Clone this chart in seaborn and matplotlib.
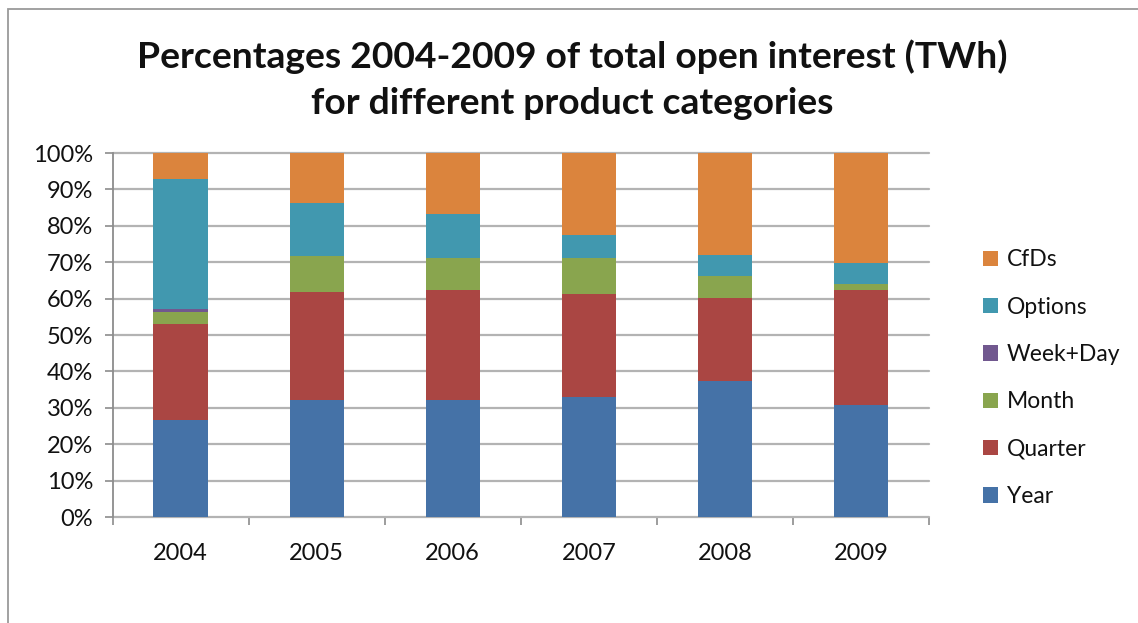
import numpy as np
import pandas as pd
import matplotlib
matplotlib.use("Agg")
import matplotlib.pyplot as plt
from matplotlib.patches import Rectangle
import seaborn as sns

years = ["2004", "2005", "2006", "2007", "2008", "2009"]
categories = ["Year", "Quarter", "Month", "Week+Day", "Options", "CfDs"]
year_pct = [26.7, 32.2, 32.2, 33.0, 37.4, 30.7]
quarter_pct = [26.4, 29.7, 30.2, 28.3, 22.8, 31.7]
month_pct = [3.2, 9.9, 8.8, 9.9, 6.1, 1.7]
weekday_pct = [0.8, 0.0, 0.0, 0.0, 0.0, 0.0]
options_pct = [35.8, 14.5, 12.1, 6.3, 5.7, 5.7]
cfds_pct = [7.1, 13.7, 16.7, 22.5, 28.0, 30.2]
yticks = [0, 10, 20, 30, 40, 50, 60, 70, 80, 90, 100]

colors = {
    "Year": "#4572A7",
    "Quarter": "#AA4643",
    "Month": "#89A54E",
    "Week+Day": "#71588F",
    "Options": "#4198AF",
    "CfDs": "#DB843D",
}

series = [year_pct, quarter_pct, month_pct, weekday_pct, options_pct, cfds_pct]
df = pd.DataFrame({"year": years})
for name, vals in zip(categories, series):
    df[name] = vals
# normalise each year to 100 % and build cumulative stack tops
totals = df[categories].sum(axis=1)
shares = df[categories].div(totals, axis=0) * 100
cum = shares.cumsum(axis=1)

sns.set_theme(style="white")
plt.rcParams["font.family"] = ["Lato", "DejaVu Sans"]

fig = plt.figure(figsize=(11.38, 6.23), dpi=100)
ax = fig.add_axes([0.099, 0.1701, 0.7173, 0.5843])

# draw stacks from the top layer down so lower layers overlay upper ones
for name in reversed(categories):
    sns.barplot(x=df["year"], y=cum[name], color=colors[name], width=0.4,
                saturation=1, ax=ax, label=name, zorder=3, linewidth=0)

handles, labels = ax.get_legend_handles_labels()
if ax.get_legend() is not None:
    ax.get_legend().remove()

ax.set_ylim(0, 100)
ax.set_xlim(-0.5, len(years) - 0.5)
ax.set_yticks(yticks)
ax.set_yticklabels([f"{t}%" for t in yticks])
ax.set_xlabel("")
ax.set_ylabel("")
for t in yticks:
    ax.axhline(t, color="#B3B3B3", lw=1.6, zorder=1, clip_on=False)

ax.set_xticks(np.arange(-0.5, len(years) + 0.5, 1), minor=True)
ax.tick_params(axis="x", which="major", length=0, pad=19, labelsize=17, labelcolor="#111111")
ax.tick_params(axis="x", which="minor", length=6, width=1.2, color="#8C8C8C", direction="out", bottom=True)
ax.tick_params(axis="y", which="major", length=6, width=1.2, color="#8C8C8C", direction="out",
               left=True, pad=8, labelsize=17, labelcolor="#111111")

for s in ["top", "right", "bottom"]:
    ax.spines[s].set_visible(False)
ax.spines["left"].set_color("#8C8C8C")
ax.spines["left"].set_linewidth(1.3)
ax.grid(False)

lookup = dict(zip(labels, handles))
order = ["CfDs", "Options", "Week+Day", "Month", "Quarter", "Year"]
fig.legend([lookup[k] for k in order], order, loc="center left",
           bbox_to_anchor=(0.8456, 0.393), frameon=False, fontsize=16.5,
           handlelength=0.65, handleheight=0.65, handletextpad=0.4,
           labelspacing=1.15, labelcolor="#111111")

fig.suptitle("Percentages 2004-2009 of total open interest (TWh)\nfor different product categories",
             x=0.503, y=0.936, fontsize=26.8, fontweight="bold", linespacing=1.45, color="#111111")

# outer chart border
fig.patches.append(Rectangle((8 / 1138, -0.1), 1.2, 1.1 - 9 / 623, transform=fig.transFigure,
                             fill=False, edgecolor="#9A9A9A", lw=1.3))

fig.savefig("out.png", dpi=100)
